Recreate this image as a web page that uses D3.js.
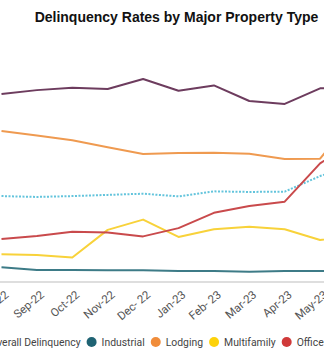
<!DOCTYPE html>
<html>
<head>
<meta charset="utf-8">
<script src="https://cdn.jsdelivr.net/npm/d3@7"></script>
<style>
  html, body { margin: 0; padding: 0; background: #fff; }
  svg { display: block; }
</style>
</head>
<body>
<svg id="chart" width="324" height="353"></svg>
<script>
// Monthly CMBS delinquency rates (%) by property type
const months = ["Aug-22", "Sep-22", "Oct-22", "Nov-22", "Dec- 22", "Jan-23", "Feb- 23", "Mar-23", "Apr-23", "May-23", "Jun-23"];
const overall     = [2.92, 2.89, 2.92, 2.96, 3.00, 2.91, 3.08, 3.06, 3.07, 3.60, 4.00];
const industrial  = [0.50, 0.41, 0.41, 0.40, 0.40, 0.37, 0.37, 0.35, 0.37, 0.37, 0.37];
const lodging     = [5.13, 4.98, 4.82, 4.58, 4.35, 4.38, 4.39, 4.36, 4.18, 4.19, 5.70];
const multifamily = [0.94, 0.92, 0.83, 1.77, 2.12, 1.53, 1.79, 1.88, 1.79, 1.43, 1.55];
const office      = [1.46, 1.56, 1.71, 1.68, 1.55, 1.83, 2.35, 2.58, 2.73, 4.03, 4.80];
const retail      = [6.39, 6.52, 6.60, 6.56, 6.90, 6.50, 6.68, 6.15, 6.05, 6.58, 6.63];

const seriesNames = ["Overall Delinquency", "Industrial", "Lodging", "Multifamily", "Office", "Retail"];
const seriesValues = [overall, industrial, lodging, multifamily, office, retail];
const lineColors = ["#63c4dc", "#3d7b87", "#ef9a50", "#f8d23a", "#c94a4c", "#6d3c5e"];
const dotColors  = ["#5bc2dc", "#1f6373", "#f08c3a", "#fdd20a", "#d03a3a", "#6d3c5e"];

const svg = d3.select("#chart");
const baseY = 282;

const x = d3.scalePoint().domain(months).range([1.5, 1.5 + 35.4 * (months.length - 1)]);
const y = d3.scaleLinear().domain([0, 7]).range([baseY, 76]);

// Title
svg.append("text")
  .attr("x", 176.5).attr("y", 22)
  .attr("text-anchor", "middle")
  .style("font-family", "'Liberation Sans', Arial, sans-serif")
  .style("font-weight", "bold")
  .style("font-size", "14px")
  .attr("fill", "#111")
  .text("Delinquency Rates by Major Property Type");

// Baseline
svg.append("line")
  .attr("x1", 0).attr("x2", 324)
  .attr("y1", baseY).attr("y2", baseY)
  .attr("stroke", "#dedede").attr("stroke-width", 2);

// Series lines
const line = d3.line()
  .x((d, i) => x(months[i]))
  .y(d => y(d));

seriesValues.forEach((vals, k) => {
  svg.append("path")
    .datum(vals)
    .attr("fill", "none")
    .attr("stroke", lineColors[k])
    .attr("stroke-width", 2)
    .attr("stroke-linejoin", "round")
    .attr("stroke-dasharray", k === 0 ? "2,1.5" : null)
    .attr("d", line);
});

// Rotated month labels
svg.append("g").selectAll("text")
  .data(months)
  .join("text")
  .attr("transform", d => `translate(${x(d) + 8},${296}) rotate(-40)`)
  .attr("text-anchor", "end")
  .style("font-family", "Roboto, sans-serif")
  .style("font-size", "11.5px")
  .attr("fill", "#555")
  .text(d => d);

// Legend
const legend = svg.append("g");
let cx = -20;
seriesNames.forEach((name, k) => {
  legend.append("circle")
    .attr("cx", cx).attr("cy", 342).attr("r", 5)
    .attr("fill", dotColors[k]);
  const t = legend.append("text")
    .attr("x", cx + 10).attr("y", 345.6)
    .style("font-family", "Roboto, sans-serif")
    .style("font-size", "10.4px")
    .attr("fill", "#444")
    .text(name);
  cx = cx + 10 + t.node().getComputedTextLength() + 11;
});
</script>
</body>
</html>
